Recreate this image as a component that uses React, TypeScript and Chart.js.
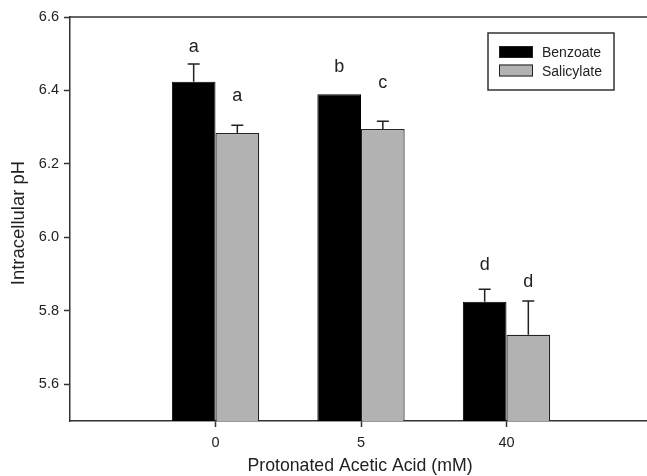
import React, { useEffect, useRef } from 'react';
import { Chart, registerables } from 'chart.js';

Chart.register(...registerables);

const categories = ['', '0', '5', '40', ''];
const benzoate = [null, 6.424, 6.39, 5.825, null];
const benzoateErr = [null, 0.048, 0, 0.034, null];
const salicylate = [null, 6.284, 6.295, 5.735, null];
const salicylateErr = [null, 0.021, 0.021, 0.092, null];
const benzoateLetters = ['', 'a', 'b', 'd', ''];
const salicylateLetters = ['', 'a', 'c', 'd', ''];
const benzoateLetterAt = [null, 6.504, 6.451, 5.91, null];
const salicylateLetterAt = [null, 6.372, 6.406, 5.864, null];
const yTicks = [5.6, 5.8, 6.0, 6.2, 6.4, 6.6];
const seriesNames = ['Benzoate', 'Salicylate'];
const seriesColors = ['#000000', '#b2b2b2'];
const xTitle = 'Protonated Acetic Acid (mM)';
const yTitle = 'Intracellular pH';

const FONT = "'Liberation Sans', Arial, sans-serif";
const INK = '#222';

const overlay = {
  id: 'overlay',
  afterDatasetsDraw(chart: any) {
    const { ctx, scales } = chart;
    const y = scales.y;
    const errs = [benzoateErr, salicylateErr];
    const letters = [benzoateLetters, salicylateLetters];
    const letterAt = [benzoateLetterAt, salicylateLetterAt];
    ctx.save();
    chart.data.datasets.forEach((ds: any, di: number) => {
      const meta = chart.getDatasetMeta(di);
      meta.data.forEach((bar: any, i: number) => {
        const v = ds.data[i];
        if (v == null) return;
        const e = errs[di][i];
        const x = bar.x;
        if (e) {
          const y0 = y.getPixelForValue(v);
          const y1 = y.getPixelForValue(v + e);
          ctx.strokeStyle = INK;
          ctx.lineWidth = 1.5;
          ctx.beginPath();
          ctx.moveTo(x, y0);
          ctx.lineTo(x, y1);
          ctx.moveTo(x - 6, y1);
          ctx.lineTo(x + 6, y1);
          ctx.stroke();
        }
        const l = letters[di][i];
        const la = letterAt[di][i];
        if (l && la != null) {
          ctx.fillStyle = INK;
          ctx.font = `18px ${FONT}`;
          ctx.textAlign = 'center';
          ctx.textBaseline = 'alphabetic';
          ctx.fillText(l, x, y.getPixelForValue(la));
        }
      });
    });
    ctx.restore();
  },
  afterDraw(chart: any) {
    const { ctx, chartArea } = chart;
    ctx.save();
    // top frame line
    ctx.strokeStyle = '#333';
    ctx.lineWidth = 1.5;
    ctx.beginPath();
    ctx.moveTo(chartArea.left - 0.75, chartArea.top);
    ctx.lineTo(chartArea.right + 2, chartArea.top);
    ctx.stroke();

    // legend
    const bx = 488, by = 33, bw = 126, bh = 57;
    ctx.lineWidth = 1.5;
    ctx.strokeStyle = '#333';
    ctx.strokeRect(bx, by, bw, bh);
    ctx.font = `14px ${FONT}`;
    ctx.textAlign = 'left';
    ctx.textBaseline = 'alphabetic';
    seriesNames.forEach((name, i) => {
      const sy = 46 + i * 18.5;
      ctx.fillStyle = seriesColors[i];
      ctx.fillRect(499, sy, 34, 12);
      ctx.lineWidth = 1;
      ctx.strokeStyle = INK;
      ctx.strokeRect(499.5, sy + 0.5, 33, 11);
      ctx.fillStyle = INK;
      ctx.fillText(name, 542, sy + 11.3);
    });

    // axis titles
    ctx.fillStyle = INK;
    ctx.font = `17.7px ${FONT}`;
    ctx.textAlign = 'center';
    ctx.textBaseline = 'alphabetic';
    ctx.fillText(xTitle, 360, 471);

    ctx.save();
    ctx.translate(24, 223);
    ctx.rotate(-Math.PI / 2);
    ctx.font = `18.5px ${FONT}`;
    ctx.fillText(yTitle, 0, 0);
    ctx.restore();

    ctx.restore();
  },
};

export default function App() {
  const ref = useRef<HTMLCanvasElement>(null);
  useEffect(() => {
    const chart = new Chart(ref.current as HTMLCanvasElement, {
      type: 'bar',
      data: {
        labels: categories,
        datasets: [
          {
            label: seriesNames[0],
            data: benzoate as any,
            backgroundColor: seriesColors[0],
            borderColor: '#000',
            borderWidth: 1,
            categoryPercentage: 0.6,
            barPercentage: 1.0,
          },
          {
            label: seriesNames[1],
            data: salicylate as any,
            backgroundColor: seriesColors[1],
            borderColor: INK,
            borderWidth: 1.2,
            categoryPercentage: 0.6,
            barPercentage: 1.0,
          },
        ],
      },
      options: {
        animation: false,
        responsive: false,
        maintainAspectRatio: false,
        layout: { padding: { top: 17, right: 1, left: 0, bottom: 0 } },
        plugins: {
          legend: { display: false },
          tooltip: { enabled: false },
        },
        scales: {
          x: {
            type: 'category',
            offset: false,
            afterFit(scale: any) {
              scale.height = 55;
            },
            grid: {
              offset: false,
              drawOnChartArea: false,
              tickLength: 6,
              tickWidth: 1.5,
              tickColor: (c: any) => (c.tick && c.tick.label ? '#333' : 'rgba(0,0,0,0)'),
            },
            border: { color: '#333', width: 1.5 },
            ticks: {
              color: INK,
              font: { family: FONT, size: 14.5 },
              padding: 7,
              autoSkip: false,
              maxRotation: 0,
            },
          },
          y: {
            type: 'linear',
            min: 5.5,
            max: 6.6,
            afterFit(scale: any) {
              scale.width = 70;
            },
            afterBuildTicks(scale: any) {
              scale.ticks = yTicks.map((v) => ({ value: v }));
            },
            grid: {
              drawOnChartArea: false,
              tickLength: 6,
              tickWidth: 1.5,
              tickColor: '#333',
            },
            border: { color: '#333', width: 1.5 },
            ticks: {
              color: INK,
              font: { family: FONT, size: 14.5 },
              padding: 5,
              callback: (v: any) => Number(v).toFixed(1),
            },
          },
        },
      },
      plugins: [overlay],
    });
    return () => chart.destroy();
  }, []);
  return (
    <div
      style={{
        position: 'fixed',
        left: 0,
        top: 0,
        width: 647,
        height: 476,
        overflow: 'hidden',
        background: '#fff',
      }}
    >
      <canvas ref={ref} width={659} height={476} style={{ display: 'block' }} />
    </div>
  );
}
